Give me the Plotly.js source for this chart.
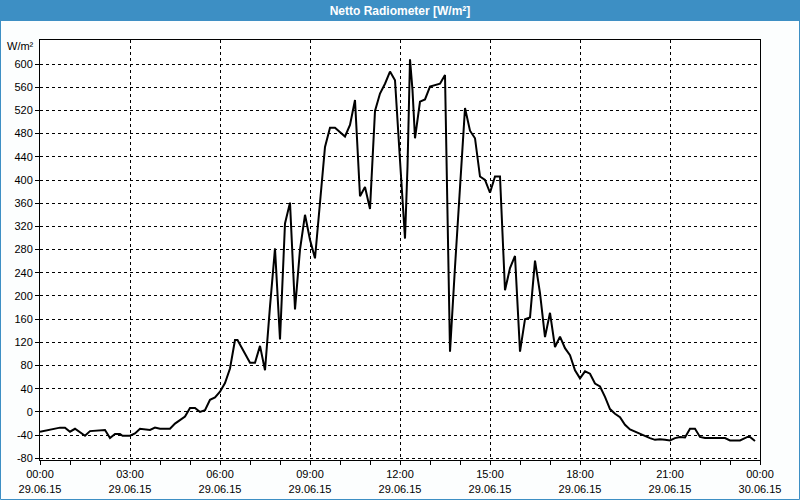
<!DOCTYPE html>
<html>
<head>
<meta charset="utf-8">
<script src="https://cdn.plot.ly/plotly-3.0.1.min.js"></script>
<style>
  html, body { margin: 0; padding: 0; background: #fcfefe; }
  #chart { width: 800px; height: 500px; }
</style>
</head>
<body>
<div id="chart"></div>
<script>
// Time of day (29.06.15) and net radiation values [W/m²]
const times = [
  "00:00","00:20","00:40","00:50","01:00","01:10","01:30","01:40","02:00","02:10",
  "02:20","02:30","02:40","02:45","03:00","03:10","03:20","03:40","03:50","04:00",
  "04:20","04:30","04:50","05:00","05:10","05:20","05:30","05:40","05:50","06:00",
  "06:10","06:20","06:30","06:35","07:00","07:10","07:20","07:30","07:40","07:50",
  "08:00","08:10","08:20","08:30","08:40","08:50","09:00","09:10","09:30","09:40",
  "09:50","10:10","10:20","10:30","10:40","10:50","11:00","11:10","11:20","11:30",
  "11:40","11:50","12:00","12:10","12:15","12:20","12:25","12:30","12:40","12:50",
  "13:00","13:20","13:30","13:40","13:50","14:00","14:10","14:20","14:30","14:40",
  "14:50","15:00","15:10","15:20","15:30","15:40","15:50","16:00","16:10","16:20",
  "16:30","16:40","16:50","17:00","17:10","17:20","17:30","17:40","17:50","18:00",
  "18:10","18:20","18:30","18:40","18:50","19:00","19:10","19:20","19:30","19:40",
  "19:50","20:00","20:10","20:20","20:30","20:40","20:50","21:00","21:10","21:20",
  "21:30","21:40","21:50","22:00","22:10","22:50","23:00","23:20","23:35","23:40",
  "23:50"
];
const values = [
  -34,-30,-27,-27,-34,-29,-41,-33,-31,-31,
  -45,-38,-38,-41,-41,-37,-29,-31,-27,-29,
  -29,-20,-8,7,7,0,3,21,25,35,
  50,75,124,124,85,85,114,72,182,282,
  125,325,361,177,280,340,297,265,457,490,
  490,475,495,538,372,388,350,519,549,566,
  587,572,434,299,423,608,555,472,535,539,
  561,566,581,104,250,390,524,485,472,406,
  400,378,406,406,210,248,269,104,160,163,
  261,205,129,171,112,130,110,98,72,58,
  70,66,49,44,26,5,-3,-9,-22,-30,
  -34,-38,-41,-45,-48,-47,-48,-49,-45,-43,
  -44,-29,-29,-43,-45,-45,-49,-49,-43,-43,
  -50
];
const day = "2015-06-29";
const yTickVals = [-80,-40,0,40,80,120,160,200,240,280,320,360,400,440,480,520,560,600];
const yTickText = yTickVals.map(v => String(v));
const chartTitle = "Netto Radiometer [W/m²]";
const unitLabel = "W/m²";

const x = times.map(t => day + " " + t);

const W = 800, H = 500;
const m = {l: 40, r: 40, t: 40, b: 40};
const pw = W - m.l - m.r, ph = H - m.t - m.b;
const px = v => (v - m.l) / pw;          // pixel x -> paper
const py = v => (H - m.b - v) / ph;      // pixel y -> paper
const blue = "#3d8fc4";
const font = "Liberation Sans, Arial, sans-serif";

const trace = {
  x: x, y: values, type: "scatter", mode: "lines",
  line: {color: "#000000", width: 2},
  hoverinfo: "x+y"
};

const layout = {
  width: W, height: H,
  margin: m,
  paper_bgcolor: "#fcfefe",
  plot_bgcolor: "#ffffff",
  showlegend: false,
  font: {family: font, size: 11, color: "#000000"},
  title: {
    text: "<b>" + chartTitle + "</b>",
    font: {family: font, size: 12, color: "#ffffff"},
    x: 0.5, xanchor: "center", xref: "container",
    y: 1 - 10.5 / H, yanchor: "middle", yref: "container"
  },
  xaxis: {
    type: "date",
    range: ["2015-06-29 00:00", "2015-06-30 00:00"],
    tick0: "2015-06-29 00:00",
    dtick: 10800000,
    tickformat: "%H:%M<br>%d.%m.%y",
    showgrid: true, gridcolor: "#000000", gridwidth: 1, griddash: "3px,3px",
    ticks: "outside", ticklen: 4, tickcolor: "#000000", tickwidth: 1,
    minor: {dtick: 3600000, ticks: "outside", ticklen: 4, tickcolor: "#000000", showgrid: false},
    showline: true, linecolor: "#000000", linewidth: 1, mirror: true,
    zeroline: false, fixedrange: true,
    tickfont: {family: font, size: 11, color: "#000000"}
  },
  yaxis: {
    range: [-82.8, 641.4],
    tickvals: yTickVals, ticktext: yTickText,
    showgrid: true, gridcolor: "#000000", gridwidth: 1, griddash: "3px,3px",
    ticks: "outside", ticklen: 4, tickcolor: "#000000", tickwidth: 1,
    showline: true, linecolor: "#000000", linewidth: 1, mirror: true,
    zeroline: false, fixedrange: true,
    tickfont: {family: font, size: 11, color: "#000000"}
  },
  shapes: [
    {type: "rect", xref: "paper", yref: "paper", layer: "below",
     x0: px(0), x1: px(W), y0: py(21), y1: py(0),
     fillcolor: blue, line: {width: 0}},
    {type: "rect", xref: "paper", yref: "paper", layer: "above",
     x0: px(0.5), x1: px(W - 0.5), y0: py(H - 0.5), y1: py(0.5),
     fillcolor: "rgba(0,0,0,0)", line: {color: blue, width: 1}}
  ],
  annotations: [
    {text: unitLabel, xref: "paper", yref: "paper",
     x: px(36), y: py(46), xanchor: "right", yanchor: "middle",
     showarrow: false, font: {family: font, size: 11, color: "#000000"}}
  ]
};

Plotly.newPlot("chart", [trace], layout, {displayModeBar: false, staticPlot: true});
</script>
</body>
</html>
